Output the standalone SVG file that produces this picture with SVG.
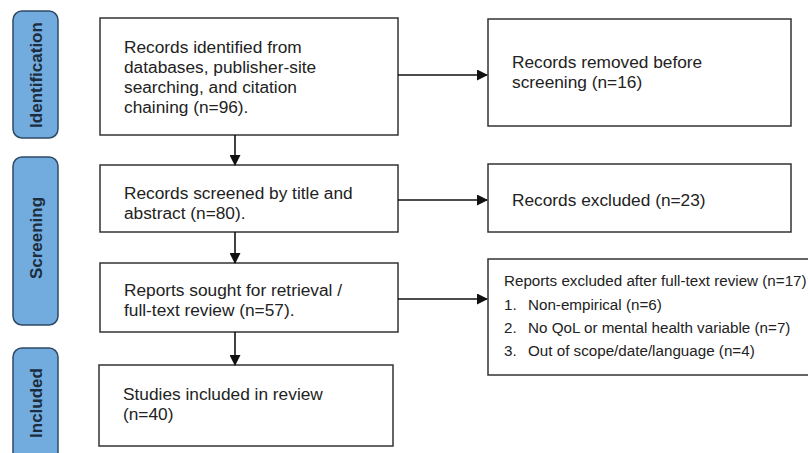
<svg xmlns="http://www.w3.org/2000/svg" width="808" height="453" viewBox="0 0 808 453">
<defs>
<marker id="ah" markerWidth="11" markerHeight="11" refX="10" refY="5.5" orient="auto" markerUnits="userSpaceOnUse">
<path d="M0,0 L11,5.5 L0,11 Z" fill="#111"/>
</marker>
<style>
.tab{fill:#72abdd;stroke:#2e4a66;stroke-width:1.5}
.tabt{font-family:"Liberation Sans",Arial,sans-serif;font-size:17px;font-weight:bold;fill:#1c2d40;text-anchor:middle}
.box{fill:#fff;stroke:#333;stroke-width:1.5}
.t{font-family:"Liberation Sans",Arial,sans-serif;font-size:17.3px;fill:#222}
.s{font-family:"Liberation Sans",Arial,sans-serif;font-size:15.2px;fill:#222}
.c{stroke:#111;stroke-width:1.6;fill:none;marker-end:url(#ah)}
</style>
</defs>
<rect width="808" height="453" fill="#fff"/>
<g id="tab-identification"><rect class="tab" x="13" y="11" width="45" height="127" rx="9"/><text class="tabt" transform="translate(42,75) rotate(-90)">Identification</text></g>
<g id="tab-screening"><rect class="tab" x="13" y="157" width="45" height="168" rx="9"/><text class="tabt" transform="translate(42,238) rotate(-90)">Screening</text></g>
<g id="tab-included"><rect class="tab" x="13" y="348" width="45" height="115" rx="9"/><text class="tabt" transform="translate(42,403) rotate(-90)">Included</text></g>
<g id="n1"><rect class="box" x="100" y="18" width="298" height="117"/><text class="t"><tspan x="124" y="53">Records identified from</tspan><tspan x="124" y="73">databases, publisher-site</tspan><tspan x="124" y="93">searching, and citation</tspan><tspan x="124" y="113">chaining (n=96).</tspan></text></g>
<g id="n2"><rect class="box" x="100" y="165" width="298" height="67"/><text class="t"><tspan x="124" y="199">Records screened by title and</tspan><tspan x="124" y="219">abstract (n=80).</tspan></text></g>
<g id="n3"><rect class="box" x="100" y="263" width="298" height="69"/><text class="t"><tspan x="124" y="296">Reports sought for retrieval /</tspan><tspan x="124" y="316">full-text review (n=57).</tspan></text></g>
<g id="n4"><rect class="box" x="99" y="365" width="294" height="81"/><text class="t"><tspan x="123" y="400">Studies included in review</tspan><tspan x="123" y="420">(n=40)</tspan></text></g>
<g id="r1"><rect class="box" x="488" y="19" width="303" height="107"/><text class="t"><tspan x="512" y="68">Records removed before</tspan><tspan x="512" y="88">screening (n=16)</tspan></text></g>
<g id="r2"><rect class="box" x="488" y="164" width="303" height="68"/><text class="t"><tspan x="512" y="206">Records excluded (n=23)</tspan></text></g>
<g id="r3"><rect class="box" x="488" y="259" width="330" height="116"/><text class="s"><tspan x="504" y="286">Reports excluded after full-text review (n=17)</tspan><tspan x="504" y="310">1.</tspan><tspan x="528" y="310">Non-empirical (n=6)</tspan><tspan x="504" y="333">2.</tspan><tspan x="528" y="333">No QoL or mental health variable (n=7)</tspan><tspan x="504" y="356">3.</tspan><tspan x="528" y="356">Out of scope/date/language (n=4)</tspan></text></g>
<g id="connectors">
<line class="c" x1="235" y1="135" x2="235" y2="165"/>
<line class="c" x1="235" y1="232" x2="235" y2="263"/>
<line class="c" x1="235" y1="332" x2="235" y2="365"/>
<line class="c" x1="398" y1="75" x2="487" y2="75"/>
<line class="c" x1="398" y1="200" x2="487" y2="200"/>
<line class="c" x1="398" y1="299" x2="487" y2="299"/>
</g>
</svg>
